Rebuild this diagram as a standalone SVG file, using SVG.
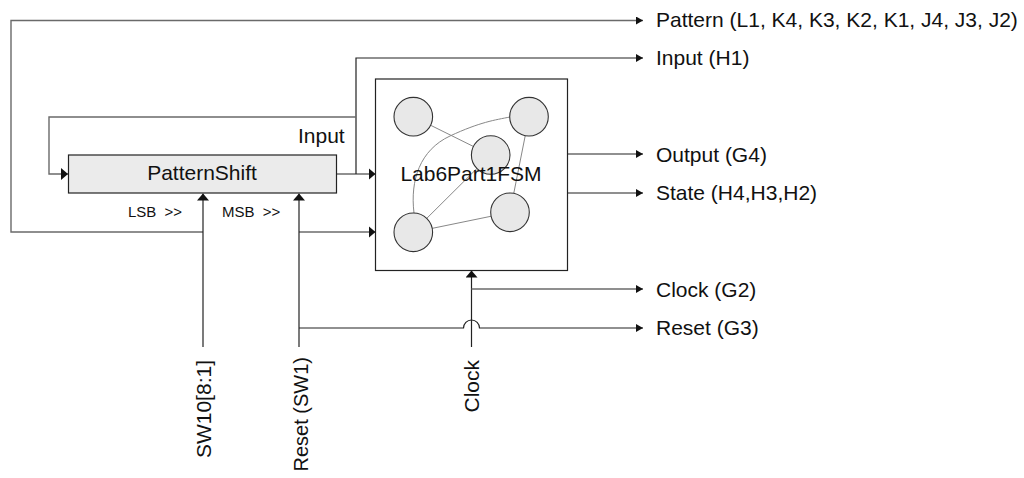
<svg xmlns="http://www.w3.org/2000/svg" width="1024" height="478" viewBox="0 0 1024 478">
<style>
text{font-family:"Liberation Sans",Arial,sans-serif;font-size:21px;fill:#111}
.sm{font-size:15px;word-spacing:4px}
.dk{fill:none;stroke:#222;stroke-width:1.2}
.gr{fill:none;stroke:#6a6a6a;stroke-width:1.4}
.box{stroke:#222;stroke-width:1.2}
.st{fill:#e8e8e8;stroke:#333;stroke-width:1.1}
.ed{fill:none;stroke:#888;stroke-width:1}
</style>
<defs>
<marker id="a" viewBox="0 0 7 8" refX="7" refY="4" markerWidth="7" markerHeight="8" markerUnits="userSpaceOnUse" orient="auto"><path d="M0,0 L7,4 L0,8 z" fill="#111"/></marker>
<marker id="b" viewBox="0 0 7 12" refX="7" refY="6" markerWidth="7" markerHeight="12" markerUnits="userSpaceOnUse" orient="auto"><path d="M0,0 L7,6 L0,12 z" fill="#111"/></marker>
</defs>
<rect width="1024" height="478" fill="#fff"/>
<g id="connectors">
<path class="gr" d="M203 232 H11 V20.5 H643" marker-end="url(#a)"/>
<path class="dk" d="M356 174 V58 H643" marker-end="url(#a)"/>
<path class="gr" d="M356 117 H49 V174 H68" marker-end="url(#b)"/>
<path class="dk" d="M337 174 H375.5" marker-end="url(#b)"/>
<path class="dk" d="M568 154 H643" marker-end="url(#a)"/>
<path class="gr" d="M568 193 H643" marker-end="url(#a)"/>
<path class="dk" d="M203 347 V193.5" marker-end="url(#b)"/>
<path class="dk" d="M299 347 V193.5" marker-end="url(#b)"/>
<path class="dk" d="M299 232 H375.5" marker-end="url(#b)"/>
<path class="dk" d="M299 328 H463.5 A8 8 0 0 1 479.5 328 H643" marker-end="url(#a)"/>
<path class="dk" d="M471.5 347 V270.5" marker-end="url(#b)"/>
<path class="gr" d="M471.5 289 H643" marker-end="url(#a)"/>
</g>
<g id="PatternShift">
<rect class="box" x="68.5" y="155" width="268" height="38" fill="#ebebeb"/>
<text x="202" y="180" text-anchor="middle">PatternShift</text>
</g>
<g id="Lab6Part1FSM">
<rect class="box" x="375.5" y="79" width="192" height="191.5" fill="#fff"/>
<line class="ed" x1="430.3" y1="125.1" x2="473.7" y2="146.6"/>
<line class="ed" x1="525.3" y1="135.3" x2="513.7" y2="193.7"/>
<line class="ed" x1="432" y1="228.4" x2="491.4" y2="216.2"/>
<line class="ed" x1="426.5" y1="218.6" x2="477" y2="168.4"/>
<path class="ed" d="M414 213 C410 180, 420 150, 450 136 S495 120, 510 117"/>
<circle class="st" cx="413.3" cy="116.7" r="19.3"/>
<circle class="st" cx="529" cy="116.7" r="19.3"/>
<circle class="st" cx="490.7" cy="155" r="19.3"/>
<circle class="st" cx="413.3" cy="232.3" r="19.3"/>
<circle class="st" cx="510" cy="212.3" r="19.3"/>
<text x="471" y="181" text-anchor="middle">Lab6Part1FSM</text>
</g>
<g id="labels">
<text x="656" y="27">Pattern (L1, K4, K3, K2, K1, J4, J3, J2)</text>
<text x="656" y="65">Input (H1)</text>
<text x="656" y="162">Output (G4)</text>
<text x="656" y="200">State (H4,H3,H2)</text>
<text x="656" y="297">Clock (G2)</text>
<text x="656" y="335">Reset (G3)</text>
<text x="298" y="143">Input</text>
<text class="sm" x="128" y="217">LSB &gt;&gt;</text>
<text class="sm" x="222" y="217">MSB &gt;&gt;</text>
<text transform="translate(211,360) rotate(-90)" text-anchor="end">SW10[8:1]</text>
<text transform="translate(307.5,357) rotate(-90)" text-anchor="end" style="font-size:20px">Reset (SW1)</text>
<text transform="translate(478.5,360) rotate(-90)" text-anchor="end">Clock</text>
</g>
</svg>
